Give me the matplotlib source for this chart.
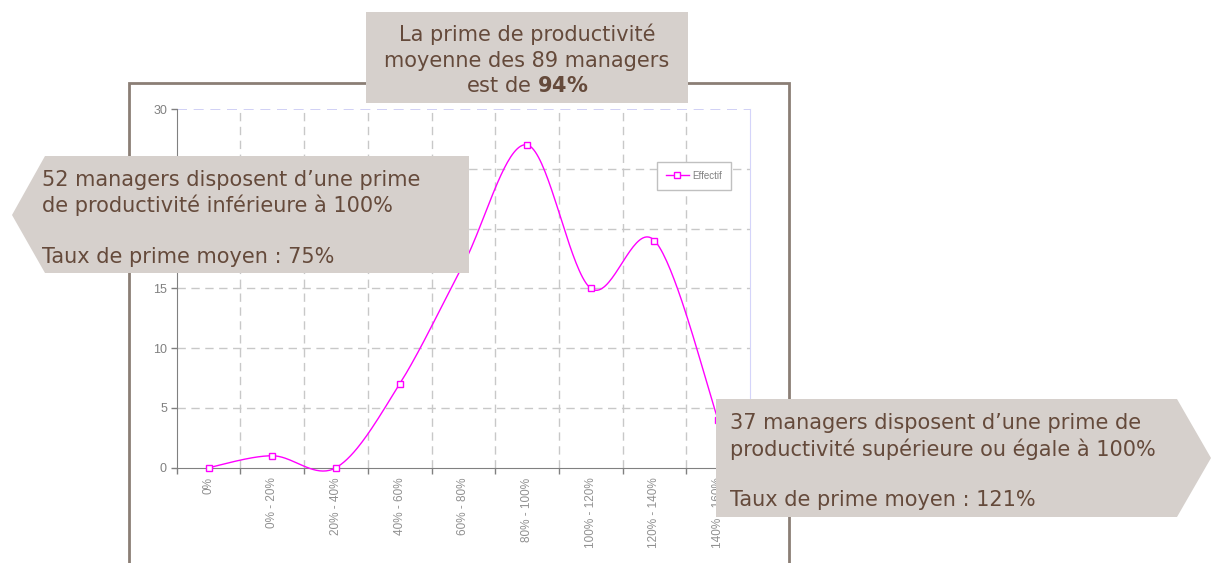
import numpy as np
import matplotlib.pyplot as plt
from matplotlib.patches import Polygon, Rectangle
from matplotlib.lines import Line2D

W, H = 1211, 563

categories = ['0%', '0% - 20%', '20% - 40%', '40% - 60%', '60% - 80%',
              '80% - 100%', '100% - 120%', '120% - 140%', '140% - 160%']
effectif = [0, 1, 0, 7, 17, 27, 15, 19, 4]
yticks = [0, 5, 10, 15, 20, 25, 30]

top_lines = ['La prime de productivité', 'moyenne des 89 managers', r'est de $\mathbf{94\%}$']
left_lines = ['52 managers disposent d\u2019une prime', 'de productivité inférieure à 100%', '',
              'Taux de prime moyen : 75%']
right_lines = ['37 managers disposent d\u2019une prime de', 'productivité supérieure ou égale à 100%', '',
               'Taux de prime moyen : 121%']

box_col = '#d6d0cc'
txt_col = '#654a3b'
pink = '#ff00ff'


def px(x, y):
    # pixel position -> figure fraction
    return (x / W, 1 - y / H)


def smooth(x, y, n=40):
    # excel-like smoothed line (catmull-rom as bezier segments)
    x = np.asarray(x, float)
    y = np.asarray(y, float)
    P = np.column_stack([x, y])
    P = np.vstack([P[0], P, P[-1]])
    out = []
    t = np.linspace(0, 1, n)[:, None]
    for i in range(1, len(P) - 2):
        p0, p1, p2, p3 = P[i - 1], P[i], P[i + 1], P[i + 2]
        c1 = p1 + (p2 - p0) / 6
        c2 = p2 - (p3 - p1) / 6
        seg = (1 - t) ** 3 * p1 + 3 * (1 - t) ** 2 * t * c1 + 3 * (1 - t) * t ** 2 * c2 + t ** 3 * p2
        out.append(seg)
    out = np.vstack(out)
    return out[:, 0], out[:, 1]


fig = plt.figure(figsize=(W / 100, H / 100), dpi=100)

# outer frame
fx0, fy0 = px(129, 600)
fx1, fy1 = px(789, 83)
fig.patches.append(Rectangle((fx0, fy0), fx1 - fx0, fy1 - fy0, transform=fig.transFigure,
                             fill=False, edgecolor='#8b7e75', linewidth=2, zorder=1))

l, b = px(176.7, 467.7)
r, t = px(750, 109)
ax = fig.add_axes([l, b, r - l, t - b])

xpos = np.arange(len(categories))
sx, sy = smooth(xpos, effectif)
ax.plot(sx, sy, color=pink, lw=1, clip_on=False, zorder=3)
ax.plot(xpos, effectif, ls='none', marker='s', ms=4.5, mfc='white', mec=pink, mew=1,
        clip_on=False, zorder=4)

ax.set_xlim(-0.5, len(categories) - 0.5)
ax.set_ylim(0, 30)
ax.set_yticks(yticks)
ax.set_yticklabels([str(v) for v in yticks], fontfamily='Liberation Sans', fontsize=9, color='#808080')
ax.set_xticks(np.arange(-0.5, len(categories)), labels=[])
ax.set_xticks(xpos, minor=True)
ax.set_xticklabels(categories, minor=True, rotation=90, fontfamily='Liberation Sans',
                   fontsize=8.5, color='#909090', va='top')
ax.tick_params(axis='y', direction='out', length=4, width=1, color='#808080', pad=3)
ax.tick_params(axis='x', which='major', direction='out', length=4, width=1, color='#808080')
ax.tick_params(axis='x', which='minor', length=0, pad=7)

for v in yticks[1:-1]:
    ax.axhline(v, color='#c8c8c8', lw=1, dashes=(6, 4), zorder=1)
for v in np.arange(0.5, len(categories) - 1):
    ax.axvline(v, color='#c8c8c8', lw=1, dashes=(6, 4), zorder=1)
ax.axhline(30, color='#c8c8f4', lw=1.2, dashes=(6, 4), zorder=1)

ax.spines['top'].set_visible(False)
ax.spines['right'].set_color('#d4d4fa')
ax.spines['left'].set_color('#808080')
ax.spines['bottom'].set_color('#808080')

handle = Line2D([], [], color=pink, lw=1, marker='s', ms=4.5, mfc='white', mec=pink, mew=1)
ax.legend([handle], ['Effectif'], loc='upper left', bbox_to_anchor=px(657, 162),
          bbox_transform=fig.transFigure, borderaxespad=0, fancybox=False,
          prop={'family': 'Liberation Sans', 'size': 7}, labelcolor='#808080',
          edgecolor='#c0c0c0', framealpha=1, handlelength=2.4, handletextpad=0.3,
          borderpad=0.9, frameon=True)

# annotation boxes
top_box = [px(366, 12), px(688, 12), px(688, 103), px(366, 103)]
left_box = [px(12, 215), px(45, 156), px(469, 156), px(469, 273), px(45, 273)]
right_box = [px(716, 399), px(1177, 399), px(1211, 458), px(1177, 517), px(716, 517)]
for pts in (top_box, left_box, right_box):
    fig.patches.append(Polygon(pts, closed=True, transform=fig.transFigure,
                               facecolor=box_col, edgecolor='none', zorder=2))

for s, yb in zip(top_lines, [41, 67, 92]):
    fig.text(*px(527, yb), s, ha='center', va='baseline', fontsize=15, color=txt_col, zorder=3)
for s, yb in zip(left_lines, [186, 212, 237, 263]):
    fig.text(*px(42, yb), s, ha='left', va='baseline', fontsize=15, color=txt_col, zorder=3)
for s, yb in zip(right_lines, [429, 456, 480, 506]):
    fig.text(*px(730, yb), s, ha='left', va='baseline', fontsize=15, color=txt_col, zorder=3)

fig.savefig('out.png', dpi=100)
